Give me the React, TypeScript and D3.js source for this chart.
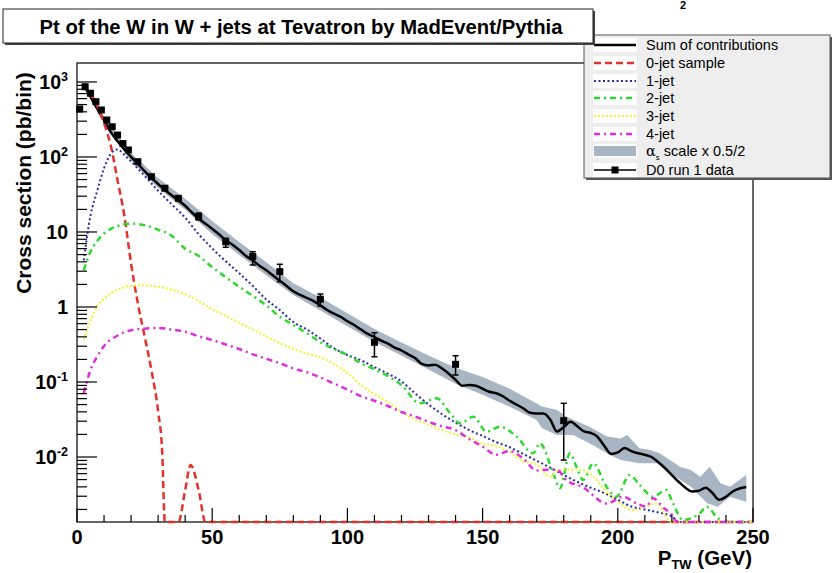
import React from "react";
import * as d3 from "d3";

const W = 832;
const H = 573;
const X0 = 77, X1 = 753, Y0 = 63, Y1 = 522;
const Y_MIN = 0.00136, Y_MAX = 1790;

// ---- Sum of contributions (2.5 GeV bin centres) ----
const sumX = d3.range(2.5, 250, 2.5);
const sumY = [912, 631, 437, 309, 214, 162, 126, 100, 81.3, 64.6, 52.5, 43.7, 36.3, 30.9, 26.3, 22.4, 18.2, 15.1, 12.9, 11.0,
  9.33, 7.76, 6.76, 5.75, 4.79, 4.17, 3.55, 3.09, 2.63, 2.24, 1.91, 1.62, 1.45, 1.32, 1.20, 1.05, 0.912, 0.813, 0.741, 0.646,
  0.575, 0.501, 0.437, 0.398, 0.355, 0.324, 0.288, 0.263, 0.234, 0.209, 0.174, 0.166, 0.170, 0.151, 0.129, 0.107, 0.0891, 0.0912, 0.0891, 0.0813,
  0.0741, 0.0708, 0.0646, 0.0562, 0.0501, 0.0447, 0.0389, 0.0380, 0.0380, 0.0316, 0.0219, 0.0251, 0.0295, 0.0257, 0.0219, 0.0209, 0.0186, 0.0141, 0.0110, 0.0115,
  0.0132, 0.0120, 0.0112, 0.0107, 0.0100, 0.00851, 0.00708, 0.00575, 0.00468, 0.00389, 0.00347, 0.00355, 0.00389, 0.00331, 0.00269, 0.00295, 0.00347, 0.00380, 0.00398];

// ---- alpha_s scale band ----
const bandUpX = [2.5, 10, 20, 30, 40, 50, 60, 70, 80, 90, 100, 110, 120, 130, 140, 150, 160, 170, 172, 177.5, 181, 189.5, 196, 201, 203.5, 208, 212, 215.5, 223, 227, 230.5, 234, 238, 241.5, 247.5];
const bandUpY = [970, 339, 113, 52.5, 27.7, 14.0, 7.36, 3.95, 2.07, 1.34, 0.826, 0.509, 0.337, 0.225, 0.155, 0.117, 0.0813, 0.0516, 0.047, 0.0423, 0.0344, 0.0254, 0.0187, 0.0177, 0.0196, 0.0131, 0.0124, 0.0112, 0.00743, 0.00671, 0.00546, 0.00743, 0.00446, 0.00402, 0.00575];
const bandLoX = [2.5, 10, 20, 30, 40, 50, 60, 70, 80, 90, 100, 110, 120, 130, 140, 150, 160, 170, 172, 177.5, 183.5, 189.5, 196, 201, 208, 214.5, 220.5, 227, 233, 237, 241.5, 247.5];
const bandLoY = [857, 282, 88.5, 38.6, 19.8, 9.4, 4.93, 2.65, 1.44, 0.898, 0.553, 0.341, 0.225, 0.147, 0.0948, 0.0676, 0.0468, 0.0311, 0.0242, 0.0196, 0.0196, 0.0152, 0.0112, 0.00912, 0.00824, 0.00824, 0.00575, 0.00402, 0.00242, 0.00217, 0.00296, 0.00254];

// ---- 0-jet sample ----
const jet0X = [2.5, 5, 7.5, 10, 12.5, 15, 17.5, 20, 22.5, 25, 27.5, 30, 31.5, 32.5, 35, 37.5, 40, 42, 45, 47.5, 250];
const jet0Y = [912, 692, 479, 282, 141, 49, 16.6, 3.8, 1.12, 0.407, 0.145, 0.0407, 0.0117, 0, 0, 0, 0.0036, 0.0078, 0.0036, 0, 0];

// ---- 1-jet ----
const jet1X = [2.5, 5, 7.5, 10, 12.5, 15, 17.5, 20, 25, 30, 35, 40, 45, 50, 55, 60, 65, 70, 75, 80, 85, 90, 95, 100, 105, 110, 115, 120, 125, 130, 135, 140, 145, 150, 155, 160, 165, 170, 175, 180, 185, 190, 195, 200, 205, 210, 215, 220, 222.5, 250];
const jet1Y = [4.17, 16.6, 35.5, 70.8, 110, 126, 107, 87.1, 56.2, 35.5, 23.4, 15.5, 9.33, 6.03, 4.07, 2.82, 1.91, 1.26, 0.912, 0.631, 0.501, 0.380, 0.282, 0.229, 0.195, 0.158, 0.129, 0.102, 0.0708, 0.0501, 0.0372, 0.0288, 0.0229, 0.0191, 0.0158, 0.0135, 0.0110, 0.00891, 0.00724, 0.00575, 0.00468, 0.00389, 0.00331, 0.00269, 0.00219, 0.00200, 0.00182, 0.00162, 0, 0];

// ---- 2-jet ----
const jet2X = [2.5, 5, 7.5, 10, 12.5, 15, 20, 25, 30, 35, 40, 45, 50, 55, 60, 65, 70, 75, 80, 85, 90, 95, 100, 105, 110, 115, 120, 126.8, 133, 138, 141.6, 146.6, 151.5, 156.4, 162.6, 168.7, 171.2, 176.1, 178.6, 182.3, 184.7, 187.2, 190.9, 195.8, 199.5, 204.4, 208.1, 213, 217.9, 220.4, 224.1, 230.3, 232.8, 236.5, 239, 250];
const jet2Y = [3.09, 5.5, 7.6, 9.5, 11.0, 12.0, 12.9, 12.3, 10.7, 8.9, 6.0, 4.8, 3.4, 2.5, 1.86, 1.41, 1.05, 0.741, 0.575, 0.447, 0.339, 0.275, 0.229, 0.178, 0.148, 0.120, 0.0912, 0.052, 0.0607, 0.0383, 0.0281, 0.0344, 0.0217, 0.0253, 0.0187, 0.0112, 0.0152, 0.00607, 0.00383, 0.0112, 0.00743, 0.00493, 0.00824, 0.00402, 0.00296, 0.00575, 0.00424, 0.00296, 0.00363, 0.00242, 0.00145, 0.00177, 0.00217, 0.0016, 0, 0];

// ---- 3-jet ----
const jet3X = [2.5, 5, 7.5, 10, 15, 20, 25, 30, 35, 40, 45, 50, 55, 60, 65, 70, 75, 80, 85, 90, 95, 100, 105, 110, 115, 120, 125, 130, 135, 140, 145, 150, 155, 160, 165, 170, 175, 178.5, 182.5, 186, 191, 196, 201, 205.5, 210.5, 214.5, 218, 220, 250];
const jet3Y = [0.363, 0.66, 1.02, 1.29, 1.70, 1.91, 1.95, 1.86, 1.70, 1.48, 1.20, 0.933, 0.759, 0.617, 0.501, 0.407, 0.331, 0.275, 0.240, 0.214, 0.174, 0.132, 0.0912, 0.0692, 0.0537, 0.0398, 0.0316, 0.0269, 0.0229, 0.0200, 0.0182, 0.0151, 0.0141, 0.0117, 0.00891, 0.00794, 0.0055, 0.00676, 0.00676, 0.00676, 0.0055, 0.00331, 0.0024, 0.00195, 0.00219, 0.0024, 0.00158, 0, 0];

// ---- 4-jet ----
const jet4X = [2.5, 5, 7.5, 10, 15, 20, 25, 30, 35, 40, 45, 50, 55, 60, 65, 70, 75, 80, 85, 90, 95, 100, 105, 110, 115, 120, 125, 130, 135, 140, 145, 150, 155, 160, 165, 170, 173.5, 177.5, 181, 187, 196, 202, 207, 210.5, 213, 217, 219.5, 222, 250];
const jet4Y = [0.0708, 0.145, 0.219, 0.302, 0.417, 0.490, 0.513, 0.525, 0.501, 0.468, 0.407, 0.363, 0.316, 0.275, 0.234, 0.204, 0.178, 0.151, 0.135, 0.115, 0.0955, 0.0794, 0.0646, 0.0562, 0.0479, 0.0398, 0.0347, 0.0295, 0.0257, 0.0229, 0.0174, 0.0138, 0.0107, 0.0120, 0.00955, 0.00661, 0.00676, 0.00676, 0.0049, 0.00398, 0.0024, 0.00295, 0.0024, 0.00219, 0.00282, 0.00209, 0.00178, 0, 0];

// ---- D0 run 1 data ----
const dataX = [1, 3, 5, 7, 9, 11, 13, 15, 17, 19, 22.5, 27.5, 32.5, 37.5, 45, 55, 65, 75, 90, 110, 140, 180];
const dataY = [436, 865, 707, 546, 423, 311, 253, 196, 151, 124, 86.5, 54.6, 38.3, 28.1, 16.0, 7.4, 4.7, 2.96, 1.27, 0.338, 0.172, 0.0305];
const dataLo = [420, 840, 686, 530, 410, 300, 244, 189, 145, 119, 83, 52, 36.3, 26.4, 14.5, 6.25, 3.63, 2.17, 1.03, 0.217, 0.124, 0.0091];
const dataHi = [452, 890, 728, 562, 436, 322, 262, 203, 157, 129, 90, 57.5, 40.4, 29.9, 17.9, 8.24, 5.46, 3.71, 1.49, 0.454, 0.224, 0.052];

// ---- axis ticks ----
const xMajorTicks = [0, 50, 100, 150, 200, 250];
const xMinorTicks = [10, 20, 30, 40, 60, 70, 80, 90, 110, 120, 130, 140, 160, 170, 180, 190, 210, 220, 230, 240];
const yTickValues = [1000, 100, 10, 1, 0.1, 0.01];
const yTickBase = ["10", "10", "10", "1", "10", "10"];
const yTickExp = ["3", "2", "", "", "-1", "-2"];

const legendLabels = ["Sum of contributions", "0-jet sample", "1-jet", "2-jet", "3-jet", "4-jet", "scale x 0.5/2", "D0 run 1 data"];

const FONT = "'Liberation Sans', Arial, Helvetica, sans-serif";
const COL = { sum: "#000000", j0: "#e3312b", j1: "#2b2ba3", j2: "#2ed82e", j3: "#f2f230", j4: "#de2ede", band: "#a8b5c2" };

export default function App() {
  const x = d3.scaleLinear().domain([0, 250]).range([X0, X1]);
  const y = d3.scaleLog().domain([Y_MIN, Y_MAX]).range([Y1, Y0]);
  const yc = (v: number) => y(Math.max(v, Y_MIN));

  const line = d3.line<[number, number]>().x(d => x(d[0])).y(d => yc(d[1])).curve(d3.curveMonotoneX);
  const zip = (xs: number[], ys: number[]) => xs.map((v, i) => [v, ys[i]] as [number, number]);

  const upPts = zip(bandUpX, bandUpY);
  const loPts = zip(bandLoX, bandLoY).reverse();
  const bandPath = d3.line<[number, number]>().x(d => x(d[0])).y(d => yc(d[1]))([...upPts, ...loPts]) + "Z";

  const yMinor: number[] = [];
  for (let k = -3; k <= 3; k++) for (let m = 2; m <= 9; m++) {
    const v = m * Math.pow(10, k);
    if (v > Y_MIN && v < Y_MAX) yMinor.push(v);
  }

  const series = [
    { xs: jet0X, ys: jet0Y, color: COL.j0, w: 2.5, dash: "7,4" },
    { xs: jet1X, ys: jet1Y, color: COL.j1, w: 2, dash: "2,2.5" },
    { xs: jet2X, ys: jet2Y, color: COL.j2, w: 2.5, dash: "6,4,2,4" },
    { xs: jet3X, ys: jet3Y, color: COL.j3, w: 2, dash: "2,2" },
    { xs: jet4X, ys: jet4Y, color: COL.j4, w: 2.5, dash: "6,4,2,4" },
  ];

  const legRows = [45, 63, 81, 98, 116, 134, 151, 170];
  const legStyles = [
    { color: COL.sum, w: 2.5, dash: "" },
    { color: COL.j0, w: 2.5, dash: "7,4" },
    { color: COL.j1, w: 2, dash: "2,2.5" },
    { color: COL.j2, w: 2.5, dash: "6,4,2,4" },
    { color: COL.j3, w: 2, dash: "2,2" },
    { color: COL.j4, w: 2.5, dash: "6,4,2,4" },
  ];

  return (
    <svg width={W} height={H} style={{ display: "block", position: "absolute", left: 0, top: 0 }} fontFamily={FONT}>
      <rect x={0} y={0} width={W} height={H} fill="#ffffff" />
      <defs>
        <clipPath id="plotClip">
          <rect x={X0} y={Y0} width={X1 - X0} height={Y1 - Y0 + 3} />
        </clipPath>
      </defs>

      {/* stray label at top */}
      <text x={683} y={9} fontSize={11} fontWeight="bold" textAnchor="middle">2</text>

      {/* frame */}
      <rect x={X0} y={Y0} width={X1 - X0} height={Y1 - Y0} fill="none" stroke="#000" strokeWidth={1.2} />

      <g clipPath="url(#plotClip)">
        <path d={bandPath} fill={COL.band} stroke="none" />
        <path d={line(zip(sumX, sumY)) || ""} fill="none" stroke={COL.sum} strokeWidth={2.5} />
        {series.map((s, i) => (
          <path key={i} d={line(zip(s.xs, s.ys)) || ""} fill="none" stroke={s.color} strokeWidth={s.w} strokeDasharray={s.dash} />
        ))}
      </g>

      {/* x axis ticks */}
      {xMajorTicks.map(t => (
        <g key={"xm" + t}>
          <line x1={x(t)} x2={x(t)} y1={Y1} y2={Y1 - 14} stroke="#000" strokeWidth={1.2} />
          <text x={x(t)} y={544} fontSize={20} fontWeight="bold" textAnchor="middle">{t}</text>
        </g>
      ))}
      {xMinorTicks.map(t => (
        <line key={"xn" + t} x1={x(t)} x2={x(t)} y1={Y1} y2={Y1 - 7} stroke="#000" strokeWidth={1.2} />
      ))}

      {/* y axis ticks */}
      {yTickValues.map((v, i) => (
        <g key={"ym" + i}>
          <line x1={X0} x2={X0 + 20} y1={y(v)} y2={y(v)} stroke="#000" strokeWidth={1.2} />
          <text x={68} y={y(v) + 7} fontSize={19.5} fontWeight="bold" textAnchor="end">
            {yTickBase[i]}
            {yTickExp[i] && <tspan fontSize={12.5} dy={-8}>{yTickExp[i]}</tspan>}
          </text>
        </g>
      ))}
      {yMinor.map((v, i) => (
        <line key={"yn" + i} x1={X0} x2={X0 + 10} y1={y(v)} y2={y(v)} stroke="#000" strokeWidth={1.2} />
      ))}

      {/* data */}
      {dataX.map((dx, i) => (
        <g key={"d" + i}>
          <line x1={x(dx)} x2={x(dx)} y1={y(dataLo[i])} y2={y(dataHi[i])} stroke="#000" strokeWidth={1.5} />
          <line x1={x(dx) - 3} x2={x(dx) + 3} y1={y(dataLo[i])} y2={y(dataLo[i])} stroke="#000" strokeWidth={1.5} />
          <line x1={x(dx) - 3} x2={x(dx) + 3} y1={y(dataHi[i])} y2={y(dataHi[i])} stroke="#000" strokeWidth={1.5} />
          <rect x={x(dx) - 3.5} y={y(dataY[i]) - 3.5} width={7} height={7} fill="#000" />
        </g>
      ))}

      {/* axis titles */}
      <text transform="translate(31,183) rotate(-90)" fontSize={21} fontWeight="bold" textAnchor="middle">Cross section (pb/bin)</text>
      <text x={752} y={565} fontSize={20.5} fontWeight="bold" textAnchor="end">
        P<tspan fontSize={13} dy={4}>TW</tspan><tspan dy={-4}> (GeV)</tspan>
      </text>

      {/* legend */}
      <rect x={586} y={37} width={246} height={143} fill="#555" />
      <rect x={584} y={35} width={246} height={143} fill="#eeeeee" stroke="#555" strokeWidth={1} />
      {legRows.map((ry, i) => (
        <rect key={"lw" + i} x={593} y={ry - 7} width={44} height={14} fill="#ffffff" />
      ))}
      {legStyles.map((s, i) => (
        <line key={"ls" + i} x1={594} x2={636} y1={legRows[i]} y2={legRows[i]} stroke={s.color} strokeWidth={s.w} strokeDasharray={s.dash || undefined} />
      ))}
      <rect x={594} y={legRows[6] - 5} width={42} height={10} fill={COL.band} />
      <line x1={594} x2={636} y1={legRows[7]} y2={legRows[7]} stroke="#000" strokeWidth={1.5} />
      <rect x={611.5} y={legRows[7] - 3.5} width={7} height={7} fill="#000" />
      {legendLabels.map((lab, i) => (
        <text key={"lt" + i} x={646} y={legRows[i] + 5} fontSize={14.5}>
          {i === 6 ? (
            <>
              <tspan fontFamily="'DejaVu Serif', serif">α</tspan>
              <tspan fontSize={8} dy={4}>s</tspan>
              <tspan dy={-4}> {lab}</tspan>
            </>
          ) : lab}
        </text>
      ))}

      {/* title */}
      <rect x={5} y={11} width={590} height={34} fill="#444" />
      <rect x={3} y={9} width={590} height={34} fill="#ffffff" stroke="#222" strokeWidth={1} />
      <text x={301} y={34} fontSize={20} fontWeight="bold" textAnchor="middle" textLength={523} lengthAdjust="spacingAndGlyphs">Pt of the W in W + jets at Tevatron by MadEvent/Pythia</text>
    </svg>
  );
}
